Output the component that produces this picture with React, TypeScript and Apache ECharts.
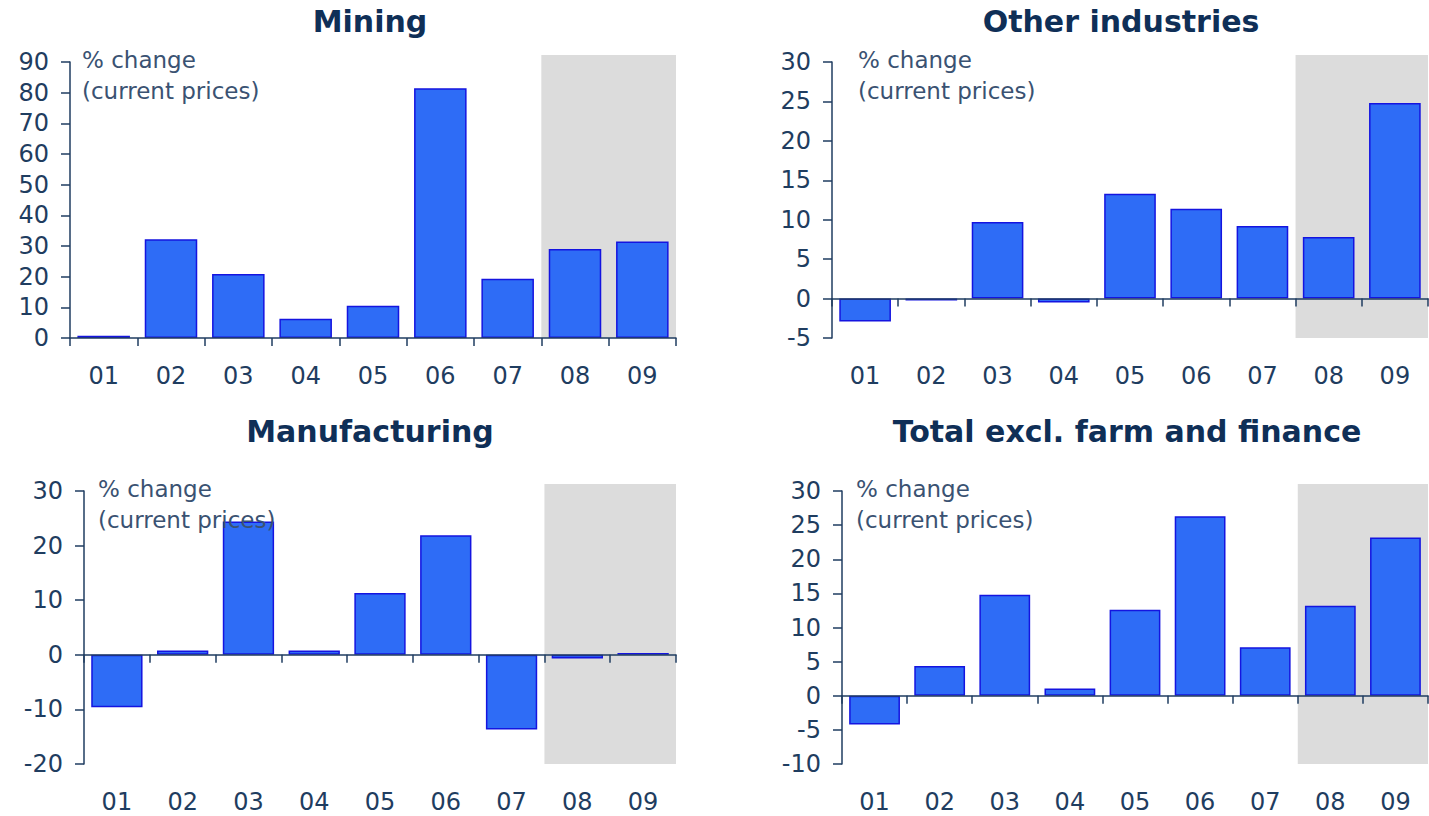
import React, { useEffect, useRef } from 'react';
import * as echarts from 'echarts';

// ---- data ----
const categories = ['01', '02', '03', '04', '05', '06', '07', '08', '09'];
const shadedFrom = '08';
const shadedTo = '09';
const panelTitles = ['Mining', 'Other industries', 'Manufacturing', 'Total excl. farm and finance'];
const miningValues = [0.7, 32.2, 20.9, 6.3, 10.5, 81.4, 19.3, 29.0, 31.5];
const otherValues = [-2.9, -0.25, 9.7, -0.5, 13.3, 11.4, 9.2, 7.8, 24.8];
const manufacturingValues = [-9.6, 0.8, 24.4, 0.8, 11.3, 21.9, -13.7, -0.7, 0.35];
const totalValues = [-4.2, 4.35, 14.8, 1.06, 12.6, 26.3, 7.1, 13.2, 23.2];
const yMins = [0, -5, -20, -10];
const yMaxs = [90, 30, 30, 30];
const yIntervals = [10, 5, 10, 5];
const unitNote = ['% change', '(current prices)'];

// ---- layout / style ----
const grids = [
  { left: 70, top: 62, width: 606, height: 276 },
  { left: 832, top: 62, width: 596, height: 276 },
  { left: 84, top: 491, width: 592, height: 273 },
  { left: 842, top: 491, width: 586, height: 273 },
];
const titlePos = [
  [370, 21],
  [1121, 21],
  [370, 431],
  [1127, 431],
];
const notePos = [
  [82, 60],
  [858, 60],
  [98, 489],
  [856, 489],
];
const FONT = 'DejaVu Sans';
const AXIS_COLOR = '#1f3d60';
const TEXT_COLOR = '#1f3d60';
const TITLE_COLOR = '#0f2f57';
const NOTE_COLOR = '#3a5272';
const BAR_FILL = '#2e6cf6';
const BAR_BORDER = '#1414e0';
const SHADE = '#dcdcdc';

export default function App() {
  const ref = useRef<HTMLDivElement>(null);
  useEffect(() => {
    if (!ref.current) return;
    const chart = echarts.init(ref.current, undefined, { renderer: 'svg' });
    const seriesValues = [miningValues, otherValues, manufacturingValues, totalValues];
    const xAxes: any[] = [];
    const yAxes: any[] = [];
    const series: any[] = [];
    const graphics: any[] = [];
    const s0 = categories.indexOf(shadedFrom);
    const s1 = categories.indexOf(shadedTo);
    const noteText = unitNote.join('\n');

    grids.forEach((g, i) => {
      // zero-line axis with ticks
      xAxes.push({
        type: 'category',
        gridIndex: i,
        data: categories,
        position: 'top',
        z: 10,
        axisLine: { show: true, onZero: true, lineStyle: { color: AXIS_COLOR, width: 1.5 } },
        axisTick: { show: true, inside: true, length: 8, lineStyle: { color: AXIS_COLOR, width: 1.5 } },
        axisLabel: { show: false },
        splitLine: { show: false },
      });
      // label axis at the bottom
      xAxes.push({
        type: 'category',
        gridIndex: i,
        data: categories,
        position: 'bottom',
        axisLine: { show: false, onZero: false },
        axisTick: { show: false },
        axisLabel: { show: true, margin: 26, fontSize: 24, fontFamily: FONT, color: TEXT_COLOR },
        splitLine: { show: false },
      });
      yAxes.push({
        type: 'value',
        gridIndex: i,
        min: yMins[i],
        max: yMaxs[i],
        interval: yIntervals[i],
        z: 10,
        axisLine: { show: true, lineStyle: { color: AXIS_COLOR, width: 1.5 } },
        axisTick: { show: true, length: 9, lineStyle: { color: AXIS_COLOR, width: 1.5 } },
        axisLabel: { margin: 21, fontSize: 24, fontFamily: FONT, color: TEXT_COLOR },
        splitLine: { show: false },
      });
      series.push({
        type: 'custom',
        xAxisIndex: i * 2,
        yAxisIndex: i,
        z: 1,
        silent: true,
        encode: { x: [0, 1], y: [2, 3] },
        data: [[s0, s1, yMins[i], yMaxs[i]]],
        renderItem: (_p: any, api: any) => {
          const a = api.coord([api.value(0), api.value(3)]);
          const b = api.coord([api.value(1), api.value(2)]);
          const bw = api.size([1, 0])[0];
          const x0 = a[0] - bw / 2;
          const x1 = b[0] + bw / 2;
          const top = a[1] - 7;
          return {
            type: 'rect',
            shape: { x: x0, y: top, width: x1 - x0, height: b[1] - top },
            style: { fill: SHADE },
          };
        },
      });
      series.push({
        type: 'bar',
        xAxisIndex: i * 2,
        yAxisIndex: i,
        z: 2,
        data: seriesValues[i],
        barCategoryGap: '22%',
        itemStyle: { color: BAR_FILL, borderColor: BAR_BORDER, borderWidth: 1.5 },
      });
      graphics.push({
        type: 'text',
        x: titlePos[i][0],
        y: titlePos[i][1],
        style: {
          text: panelTitles[i],
          fontFamily: FONT,
          fontWeight: 'bold',
          fontSize: 30,
          fill: TITLE_COLOR,
          textAlign: 'center',
          textVerticalAlign: 'middle',
        },
      });
      graphics.push({
        type: 'text',
        x: notePos[i][0],
        y: notePos[i][1] - 16,
        z: 100,
        style: {
          text: noteText,
          fontFamily: FONT,
          fontSize: 23,
          lineHeight: 31,
          fill: NOTE_COLOR,
          textAlign: 'left',
          textVerticalAlign: 'top',
        },
      });
    });

    chart.setOption({
      animation: false,
      backgroundColor: '#ffffff',
      grid: grids.map((g) => ({ ...g, containLabel: false })),
      xAxis: xAxes,
      yAxis: yAxes,
      series,
      graphic: graphics,
    });
    return () => chart.dispose();
  }, []);
  return (
    <div
      ref={ref}
      style={{ position: 'fixed', left: 0, top: 0, width: 1429, height: 816, background: '#fff' }}
    />
  );
}
